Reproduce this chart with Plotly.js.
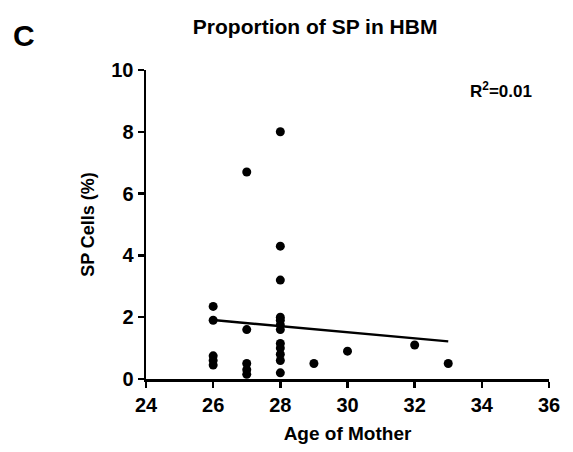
<!DOCTYPE html>
<html>
<head>
<meta charset="utf-8">
<script src="https://cdn.plot.ly/plotly-3.0.1.min.js"></script>
<style>html,body{margin:0;padding:0;background:#fff;}#chart{width:573px;height:452px;}</style>
</head>
<body>
<div id="chart"></div>
<script>
// Age of mother (x) and proportion of SP cells (%) (y)
const ageOfMother = [26,26,26,26,26, 27,27,27,27,27, 28,28,28,28,28,28,28,28,28,28,28,28, 29, 30, 32, 33];
const spCells     = [2.35,1.9,0.75,0.6,0.45, 6.7,1.6,0.5,0.3,0.15, 8.0,4.3,3.2,2.0,1.9,1.75,1.6,1.15,1.0,0.8,0.6,0.2, 0.5, 0.9, 1.1, 0.5];
const xTicks = [24,26,28,30,32,34,36];
const yTicks = [0,2,4,6,8,10];
const chartTitle = "Proportion of SP in HBM";
const panelLabel = "C";
const r2Label = "R<sup>2</sup>=0.01";

// least-squares fit
const n = ageOfMother.length;
const mx = ageOfMother.reduce((a,b)=>a+b,0)/n;
const my = spCells.reduce((a,b)=>a+b,0)/n;
let sxy=0, sxx=0;
for (let i=0;i<n;i++){ sxy += (ageOfMother[i]-mx)*(spCells[i]-my); sxx += (ageOfMother[i]-mx)**2; }
const slope = sxy/sxx, intercept = my - slope*mx;
const xmin = Math.min(...ageOfMother), xmax = Math.max(...ageOfMother);
const fitX = [xmin, xmax];
const fitY = fitX.map(x => intercept + slope*x);

const F = "Liberation Sans, Arial, sans-serif";
const data = [
  {x: ageOfMother, y: spCells, type:"scatter", mode:"markers",
   marker:{color:"#000", size:9}, cliponaxis:false, hoverinfo:"none"},
  {x: fitX, y: fitY, type:"scatter", mode:"lines",
   line:{color:"#000", width:2.5}, hoverinfo:"none"}
];
const axisCommon = {
  showgrid:false, zeroline:false, showline:true, linecolor:"#000", linewidth:2.5,
  ticks:"outside", ticklen:6, tickwidth:2.5, tickcolor:"#000",
  tickfont:{family:F, size:20, color:"#000", weight:"bold"}
};
const layout = {
  width:573, height:452,
  margin:{l:146, r:24, t:70, b:73},
  paper_bgcolor:"#fff", plot_bgcolor:"#fff",
  showlegend:false,
  title:{text:"<b>"+chartTitle+"</b>", x:0.55, xanchor:"center", y:0.94, yanchor:"middle",
         font:{family:F, size:21, color:"#000"}},
  xaxis: Object.assign({}, axisCommon, {range:[24,36], tickvals:xTicks, ticktext:xTicks.map(String),
         title:{text:"<b>Age of Mother</b>", font:{family:F, size:19, color:"#000"}, standoff:12}}),
  yaxis: Object.assign({}, axisCommon, {range:[0,10], tickvals:yTicks, ticktext:yTicks.map(String),
         title:{text:"<b>SP Cells (%)</b>", font:{family:F, size:18, color:"#000"}, standoff:12}}),
  annotations:[
    {text:"<b>"+panelLabel+"</b>", xref:"paper", yref:"paper", x:-0.335, y:1.113, xanchor:"left", yanchor:"middle",
     showarrow:false, font:{family:F, size:30, color:"#000"}},
    {text:"<b>"+r2Label+"</b>", xref:"paper", yref:"paper", x:0.88, y:0.935, xanchor:"center", yanchor:"middle",
     showarrow:false, font:{family:F, size:17, color:"#000"}}
  ]
};
Plotly.newPlot("chart", data, layout, {displayModeBar:false, staticPlot:true});
</script>
</body>
</html>
